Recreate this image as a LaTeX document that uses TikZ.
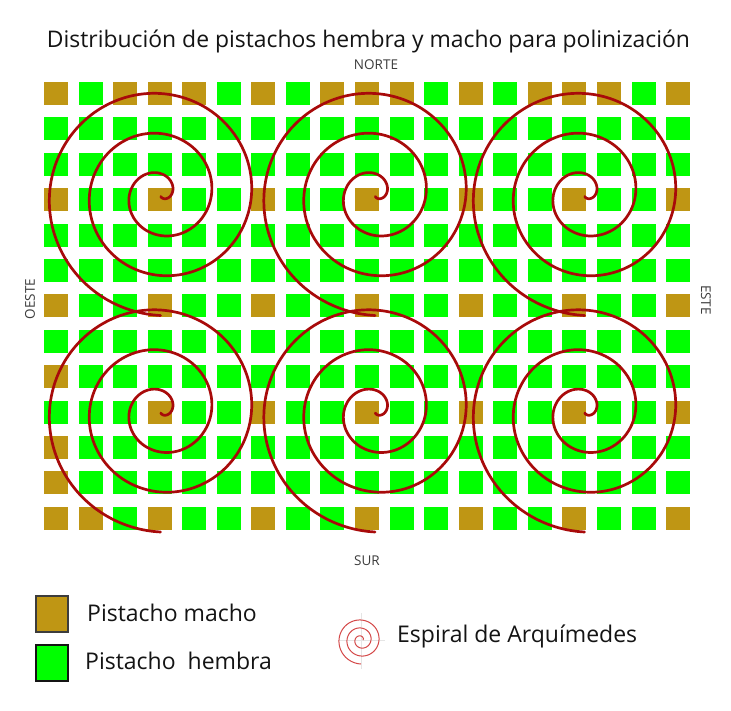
\documentclass[tikz,border=0pt]{standalone}
\usepackage{fontspec}
\setmainfont{Open Sans}
\definecolor{macho}{RGB}{191,150,20}
\definecolor{hembra}{RGB}{0,255,0}
\definecolor{espiral}{RGB}{168,10,10}
\definecolor{espleg}{RGB}{212,72,72}
\definecolor{texto}{RGB}{20,20,20}
\definecolor{rumbo}{RGB}{60,60,60}
\tikzset{
  spiralline/.style={draw=espiral, line width=2.7pt, line cap=round, line join=round},
  rumbotxt/.style={text=rumbo, inner sep=0pt, font=\fontsize{13.5}{13.5}\selectfont},
  legtxt/.style={text=texto, inner sep=0pt, anchor=base west, font=\fontsize{23}{23}\selectfont},
  legbox/.style={line width=1.4pt, minimum width=32pt, minimum height=36pt, inner sep=0pt}
}
\newcommand{\arbolbox}[3]{\fill[#1] ({44+34.56*#2},{82+35.4*#3}) rectangle ++(24,23);}
\begin{document}
\begin{tikzpicture}[x=1pt,y=-1pt]
\useasboundingbox (0,0) rectangle (731,710);
\fill[white] (0,0) rectangle (731,710);
% title and compass points
\node[text=texto, inner sep=0pt, anchor=base, font=\fontsize{22.9}{22.9}\selectfont] (titulo) at (368.5,47) {Distribución de pistachos hembra y macho para polinización};
\node[rumbotxt, anchor=base] (norte) at (376,69.5) {NORTE};
\node[rumbotxt, anchor=base] (sur) at (367,565) {SUR};
\node[rumbotxt, rotate=90] (oeste) at (30,299) {OESTE};
\node[rumbotxt, rotate=-90] (este) at (706,300) {ESTE};
% grid of trees
\foreach \j in {0,...,12} \foreach \i in {0,...,18} {\arbolbox{hembra}{\i}{\j}}
\foreach \i/\j in {0/0,2/0,3/0,4/0,6/0,8/0,9/0,10/0,12/0,14/0,15/0,16/0,18/0,0/8,0/10,0/11,0/12,1/12}
  {\arbolbox{macho}{\i}{\j}}
\foreach \j in {3,6} \foreach \i in {0,3,...,18} {\arbolbox{macho}{\i}{\j}}
\foreach \j in {9,12} \foreach \i in {3,6,...,18} {\arbolbox{macho}{\i}{\j}}
% spirals
\foreach \cx in {160.5,375,584.5} \foreach \cy in {194.5,411} {
  \draw[spiralline] plot[domain=-81:990, samples=320, smooth, variable=\t]
    ({\cx+(11+\t/9)*cos(\t)},{\cy-(11+\t/9)*sin(\t)});
}
% legend
\node[legbox, draw=rumbo, fill=macho] (boxmacho) at (52,614) {};
\node[legbox, draw=texto, fill=hembra] (boxhembra) at (52,663) {};
\node[legtxt] (txtmacho) at (87,621.5) {Pistacho macho};
\node[legtxt] (txthembra) at (85,669) {Pistacho\ \ hembra};
\node[legtxt] (txtespiral) at (397,642.5) {Espiral de Arquímedes};
\coordinate (ce) at (361,640);
\draw[gray!20, line width=0.7pt] (361,613) -- (361,669) (338,640) -- (385,640);
\draw[espleg, line width=1pt] plot[domain=0:990, samples=200, smooth, variable=\t]
  ({361+(2+\t/45)*cos(\t)},{640-(2+\t/45)*sin(\t)});
\end{tikzpicture}
\end{document}
